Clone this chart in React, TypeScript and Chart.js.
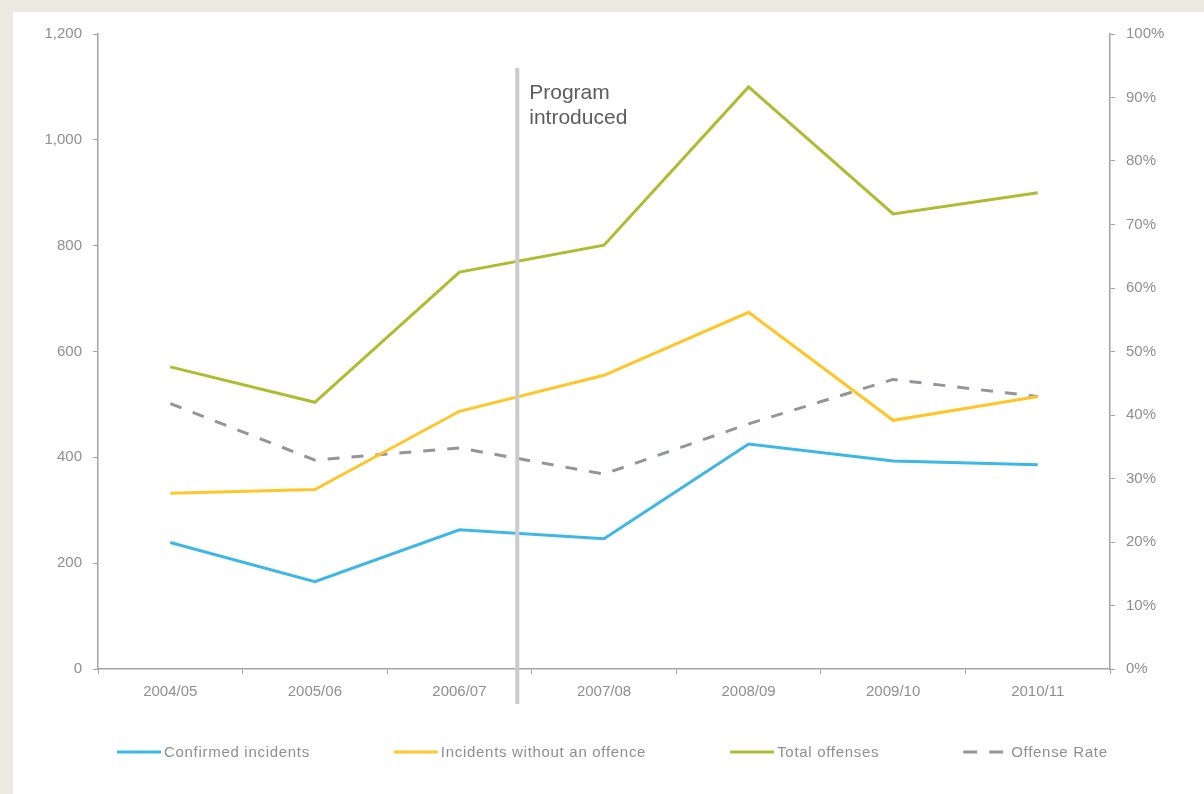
import React, { useEffect, useRef } from "react";
import { Chart, registerables } from "chart.js";

Chart.register(...registerables);

const categories = ["2004/05", "2005/06", "2006/07", "2007/08", "2008/09", "2009/10", "2010/11"];
const confirmedIncidents = [239, 165, 263, 246, 425, 393, 386];
const incidentsWithoutOffence = [332, 339, 487, 555, 674, 470, 515];
const totalOffenses = [571, 504, 750, 801, 1100, 860, 900];
const offenseRate = [41.8, 32.9, 34.8, 30.7, 38.6, 45.6, 42.9];
const seriesLabels = ["Confirmed incidents", "Incidents without an offence", "Total offenses", "Offense Rate"];
const seriesColors = ["#3DB8E5", "#FFC629", "#ADBD2F", "#939598"];
const countTicks = { min: 0, max: 1200, step: 200 };
const rateTicks = { min: 0, max: 100, step: 10 };
const programIndex = 2.4;
const programTopValue = 1136;
const programText = ["Program", "introduced"];

const TICK_COLOR = "#8F8F8F";
const AXIS_COLOR = "#A3A3A3";
const FONT_FAMILY = "'Liberation Sans', Arial, sans-serif";

const programPlugin = {
  id: "programLine",
  afterDatasetsDraw(chart: any) {
    const { ctx, chartArea } = chart;
    const x = chart.scales.x.getPixelForValue(programIndex);
    const top = chart.scales.y.getPixelForValue(programTopValue);
    const bottom = chartArea.bottom + 35;
    ctx.save();
    ctx.strokeStyle = "#CACBCD";
    ctx.lineWidth = 4;
    ctx.beginPath();
    ctx.moveTo(x, top);
    ctx.lineTo(x, bottom);
    ctx.stroke();
    ctx.fillStyle = "#5C5C5C";
    ctx.font = `21px ${FONT_FAMILY}`;
    ctx.textAlign = "left";
    ctx.textBaseline = "middle";
    programText.forEach((t, i) => ctx.fillText(t, x + 12, top + 25 + i * 25));
    ctx.restore();
  },
};

const legendPlugin = {
  id: "legendRow",
  afterDraw(chart: any) {
    const { ctx, chartArea } = chart;
    const itemGap = 84;
    ctx.save();
    ctx.font = `15px ${FONT_FAMILY}`;
    (ctx as any).letterSpacing = "0.7px";
    let x = chartArea.left + 19;
    const y = chartArea.bottom + 83;
    chart.data.datasets.forEach((d: any) => {
      const dashed = !!(d.borderDash && d.borderDash.length);
      const lineLen = dashed ? 40 : 44;
      const textGap = dashed ? 8 : 3;
      ctx.strokeStyle = d.borderColor;
      ctx.lineWidth = 3;
      ctx.setLineDash(dashed ? [14, 12] : []);
      ctx.beginPath();
      ctx.moveTo(x, y);
      ctx.lineTo(x + lineLen, y);
      ctx.stroke();
      ctx.setLineDash([]);
      ctx.fillStyle = TICK_COLOR;
      ctx.textAlign = "left";
      ctx.textBaseline = "middle";
      ctx.fillText(d.label, x + lineLen + textGap, y + 1);
      x += lineLen + textGap + ctx.measureText(d.label).width + itemGap;
    });
    ctx.restore();
  },
};

export default function App() {
  const canvasRef = useRef<HTMLCanvasElement | null>(null);

  useEffect(() => {
    if (!canvasRef.current) return;
    const tickFont = { family: FONT_FAMILY, size: 15 };
    const chart = new Chart(canvasRef.current, {
      type: "line",
      data: {
        labels: categories,
        datasets: [
          { label: seriesLabels[0], data: confirmedIncidents, borderColor: seriesColors[0], yAxisID: "y" },
          { label: seriesLabels[1], data: incidentsWithoutOffence, borderColor: seriesColors[1], yAxisID: "y" },
          { label: seriesLabels[2], data: totalOffenses, borderColor: seriesColors[2], yAxisID: "y" },
          { label: seriesLabels[3], data: offenseRate, borderColor: seriesColors[3], yAxisID: "y1", borderDash: [12, 12] },
        ].map((d) => ({
          ...d,
          borderWidth: 3,
          pointRadius: 0,
          pointHoverRadius: 0,
          tension: 0,
          fill: false,
          backgroundColor: d.borderColor,
        })),
      },
      options: {
        responsive: false,
        animation: false,
        layout: { padding: { top: 22, bottom: 65, left: 0, right: 0 } },
        plugins: { legend: { display: false }, tooltip: { enabled: false } },
        scales: {
          x: {
            offset: true,
            grid: { offset: true, drawOnChartArea: false, drawTicks: true, tickLength: 5, color: AXIS_COLOR },
            border: { display: true, color: AXIS_COLOR, width: 1.5 },
            ticks: { color: TICK_COLOR, font: tickFont, padding: 9, maxRotation: 0 },
            afterFit: (s: any) => { s.height = 60; },
          },
          y: {
            position: "left",
            min: countTicks.min,
            max: countTicks.max,
            grid: { drawOnChartArea: false, drawTicks: true, tickLength: 5, color: AXIS_COLOR },
            border: { display: true, color: AXIS_COLOR, width: 1.5 },
            ticks: {
              stepSize: countTicks.step,
              color: TICK_COLOR,
              font: tickFont,
              padding: 11,
              callback: (v: any) => Number(v).toLocaleString("en-US"),
            },
            afterFit: (s: any) => { s.width = 85; },
          },
          y1: {
            position: "right",
            min: rateTicks.min,
            max: rateTicks.max,
            grid: { drawOnChartArea: false, drawTicks: true, tickLength: 5, color: AXIS_COLOR },
            border: { display: true, color: AXIS_COLOR, width: 1.5 },
            ticks: {
              stepSize: rateTicks.step,
              color: TICK_COLOR,
              font: tickFont,
              padding: 11,
              callback: (v: any) => `${v}%`,
            },
            afterFit: (s: any) => { s.width = 94; },
          },
        },
      },
      plugins: [programPlugin, legendPlugin],
    } as any);
    return () => chart.destroy();
  }, []);

  return (
    <div style={{ position: "fixed", left: 0, top: 0, width: 1204, height: 794, background: "#ECEAE0", overflow: "hidden" }}>
      <div style={{ position: "absolute", left: 13, top: 12, width: 1191, height: 782, background: "#FFFFFF" }}>
        <canvas ref={canvasRef} width={1191} height={782} style={{ display: "block" }} />
      </div>
    </div>
  );
}
